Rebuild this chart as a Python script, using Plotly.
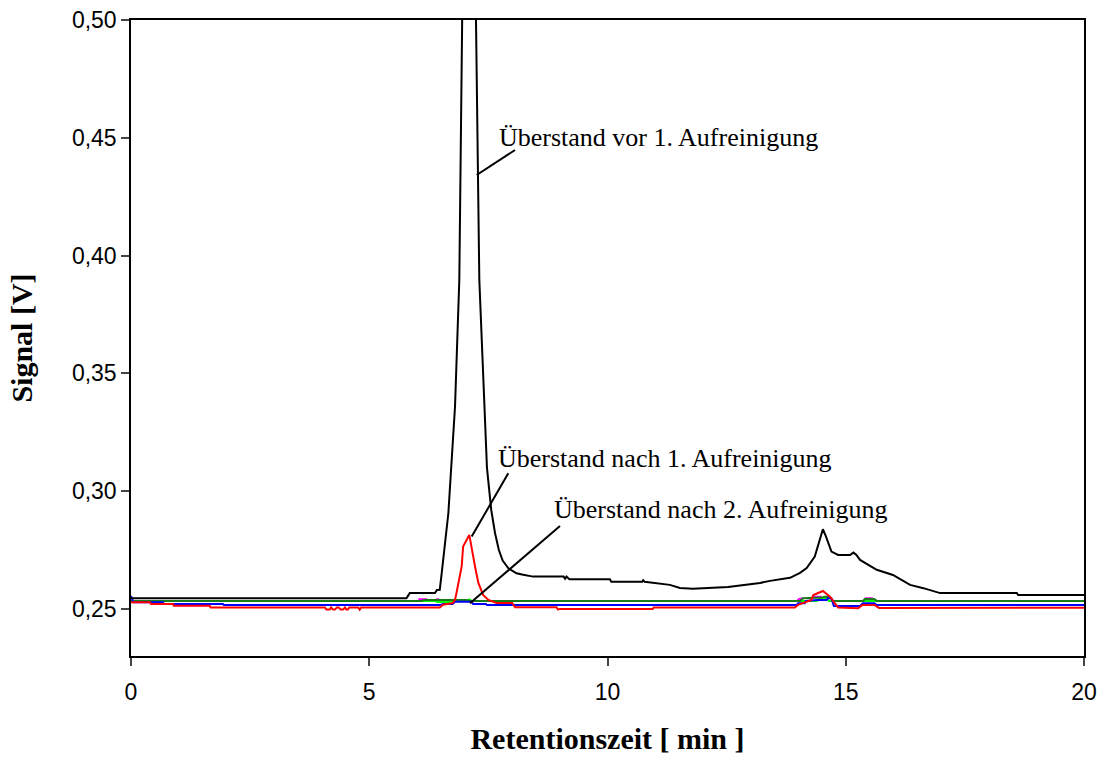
import plotly.graph_objects as go

# ---------------- data ----------------
black_x = [0, 5.78, 5.85, 6.38, 6.42, 6.48, 6.52, 6.58, 6.66, 6.80, 6.89, 6.95, 7.03, 7.12, 7.20, 7.24, 7.31, 7.40, 7.47, 7.56, 7.64, 7.72, 7.80, 7.92, 8.09,
           8.23, 8.44, 9.08, 9.11, 9.14, 9.20, 10.05, 10.08, 10.73, 10.75, 10.78, 11.31, 11.52, 11.79, 12.53, 12.93, 13.2, 13.41,
           13.83, 14.04, 14.18, 14.35, 14.45, 14.52, 14.58, 14.65, 14.70, 14.84, 15.09, 15.16, 15.22, 15.30, 15.65, 15.99,
           16.35, 16.63, 16.98, 18.59, 18.62, 20]
black_y = [0.2545, 0.2545, 0.2567, 0.2567, 0.2580, 0.2581, 0.2651, 0.2750, 0.2906, 0.3359, 0.3897, 0.50, 0.62, 0.72, 0.62, 0.50,
           0.3897, 0.3400, 0.3100, 0.2920, 0.2821, 0.2750, 0.2705, 0.2672, 0.2651, 0.2645, 0.2637, 0.2637, 0.2628, 0.2637, 0.2626, 0.2626, 0.2615,
           0.2615, 0.2622, 0.2615, 0.2602, 0.2589, 0.2585, 0.2593, 0.2602, 0.2610, 0.2619, 0.2632, 0.2653, 0.2673, 0.2722,
           0.2790, 0.2838, 0.2810, 0.2765, 0.2743, 0.2729, 0.2729, 0.2739, 0.2730, 0.2708, 0.2666, 0.2644, 0.2602, 0.2588,
           0.2567, 0.2567, 0.2559, 0.2559]

red_x = [0, 0.40, 0.42, 0.88, 0.90, 1.65, 1.67, 4.07, 4.10, 4.17, 4.20, 4.24, 4.28, 4.32, 4.36, 4.40, 4.45, 4.49, 4.52, 4.55,
         4.58, 4.77, 4.80, 4.83, 6.48, 6.55, 6.75, 6.80, 6.83, 6.94, 6.97, 7.10, 7.22, 7.29, 7.39, 7.50, 7.67, 8.00, 8.06,
         8.93, 8.96, 9.00, 10.95, 10.97, 13.93, 14.00, 14.28, 14.32, 14.52, 14.67, 14.77, 14.84, 15.26, 15.35, 15.60, 15.70, 20]
red_y = [0.2528, 0.2528, 0.2521, 0.2521, 0.2513, 0.2513, 0.2506, 0.2506, 0.2497, 0.2497, 0.2506, 0.2497, 0.2497, 0.2506,
         0.2506, 0.2497, 0.2497, 0.2506, 0.2497, 0.2497, 0.2506, 0.2506, 0.2497, 0.2506, 0.2506, 0.2518, 0.2525, 0.2538,
         0.2567, 0.2680, 0.2765, 0.2814, 0.2680, 0.2610, 0.2559, 0.2538, 0.2525, 0.2525, 0.2507, 0.2507, 0.2497, 0.2500,
         0.2500, 0.2506, 0.2506, 0.2517, 0.2538, 0.2559, 0.2576, 0.2552, 0.2524, 0.2506, 0.2503, 0.2517, 0.2517, 0.2504, 0.2505]

blue_x = [0, 0.05, 0.67, 0.69, 1.93, 1.95, 6.48, 6.55, 6.75, 6.80, 7.15, 7.18, 7.45, 7.47, 13.97, 14.00, 14.14, 14.16, 14.40,
          14.60, 14.62, 14.70, 14.75, 15.30, 15.36, 15.60, 15.65, 20]
blue_y = [0.2555, 0.2528, 0.2528, 0.2521, 0.2521, 0.2516, 0.2516, 0.2521, 0.2521, 0.2530, 0.2530, 0.2521, 0.2521, 0.2516,
          0.2516, 0.2524, 0.2524, 0.2534, 0.2538, 0.2538, 0.2545, 0.2545, 0.2512, 0.2512, 0.2524, 0.2524, 0.2516, 0.2516]

green_x = [0, 6.10, 6.15, 7.05, 7.10, 14.04, 14.10, 14.50, 14.55, 14.65, 14.74, 15.36, 15.40, 15.60, 15.65, 20]
green_y = [0.2534, 0.2534, 0.2538, 0.2538, 0.2534, 0.2534, 0.2545, 0.2548, 0.2552, 0.2552, 0.2534, 0.2534, 0.2542, 0.2542,
           0.2534, 0.2534]

lime_x = [0, 6.40, 6.42, 6.70, 6.75, 7.05, 7.10, 7.15, 14.40, 14.45, 14.60, 14.65, 20]
lime_y = [0.2534, 0.2534, 0.2529, 0.2529, 0.2534, 0.2536, 0.2540, 0.2534, 0.2534, 0.2546, 0.2546, 0.2534, 0.2534]

magenta_x = [0, 5.90, 5.93, 6.45, 6.48, 13.98, 14.02, 14.30, 14.40, 14.55, 14.65, 14.74, 15.38, 15.42, 15.60, 15.65, 20]
magenta_y = [0.2534, 0.2534, 0.2541, 0.2541, 0.2534, 0.2534, 0.2542, 0.2552, 0.2552, 0.2550, 0.2550, 0.2534, 0.2534, 0.2545,
             0.2545, 0.2534, 0.2534]

x_ticks = [0, 5, 10, 15, 20]
y_ticks = [0.25, 0.30, 0.35, 0.40, 0.45, 0.50]

labels = ["Überstand vor 1. Aufreinigung", "Überstand nach 1. Aufreinigung", "Überstand nach 2. Aufreinigung"]
label_pos = [(7.69, 0.4500), (7.66, 0.3137), (8.83, 0.2922)]
leader_head = [(7.255, 0.4342), (7.150, 0.2807), (7.114, 0.2524)]
leader_tail = [(8.059, 0.4448), (7.918, 0.3076), (9.003, 0.2852)]

# ---------------- figure ----------------
fig = go.Figure()
series = [
    (magenta_x, magenta_y, "#ff00ff", "dash"),
    (lime_x, lime_y, "#00ff00", "solid"),
    (green_x, green_y, "#1a7a1a", "solid"),
    (blue_x, blue_y, "#0000ff", "solid"),
    (red_x, red_y, "#ff0000", "solid"),
    (black_x, black_y, "#000000", "solid"),
]
for xs, ys, col, dash in series:
    fig.add_trace(go.Scatter(x=xs, y=ys, mode="lines", line=dict(color=col, width=2, dash=dash),
                             showlegend=False, hoverinfo="skip"))

for (hx, hy), (tx, ty) in zip(leader_head, leader_tail):
    fig.add_shape(type="line", x0=hx, y0=hy, x1=tx, y1=ty, xref="x", yref="y",
                  line=dict(color="black", width=2))

for txt, (lx, ly) in zip(labels, label_pos):
    fig.add_annotation(x=lx, y=ly, xref="x", yref="y", text=txt, showarrow=False,
                       xanchor="left", yanchor="middle",
                       font=dict(family="Liberation Serif", size=26, color="black"))

fig.update_layout(
    width=1101, height=758,
    margin=dict(l=131, r=17, t=20, b=102),
    plot_bgcolor="white", paper_bgcolor="white",
    separators=",.",
    font=dict(family="Liberation Sans", size=23, color="black"),
)
fig.update_xaxes(range=[0, 20], tickvals=x_ticks, ticks="outside", ticklen=8, tickwidth=1.5,
                 showline=True, linecolor="black", linewidth=1.5, mirror=True, showgrid=False, zeroline=False,
                 ticklabelstandoff=7, automargin=False,
                 title=dict(text="<b>Retentionszeit [ min ]</b>", standoff=24,
                            font=dict(family="Liberation Serif", size=30, color="black")))
fig.update_yaxes(range=[0.23, 0.50], tickvals=y_ticks, tickformat=".2f", ticks="outside", ticklen=8, tickwidth=1.5,
                 showline=True, linecolor="black", linewidth=1.5, mirror=True, showgrid=False, zeroline=False,
                 automargin=False,
                 title=dict(text="<b>Signal [V]</b>", standoff=30,
                            font=dict(family="Liberation Serif", size=30, color="black")))

fig.write_html("out.html")
